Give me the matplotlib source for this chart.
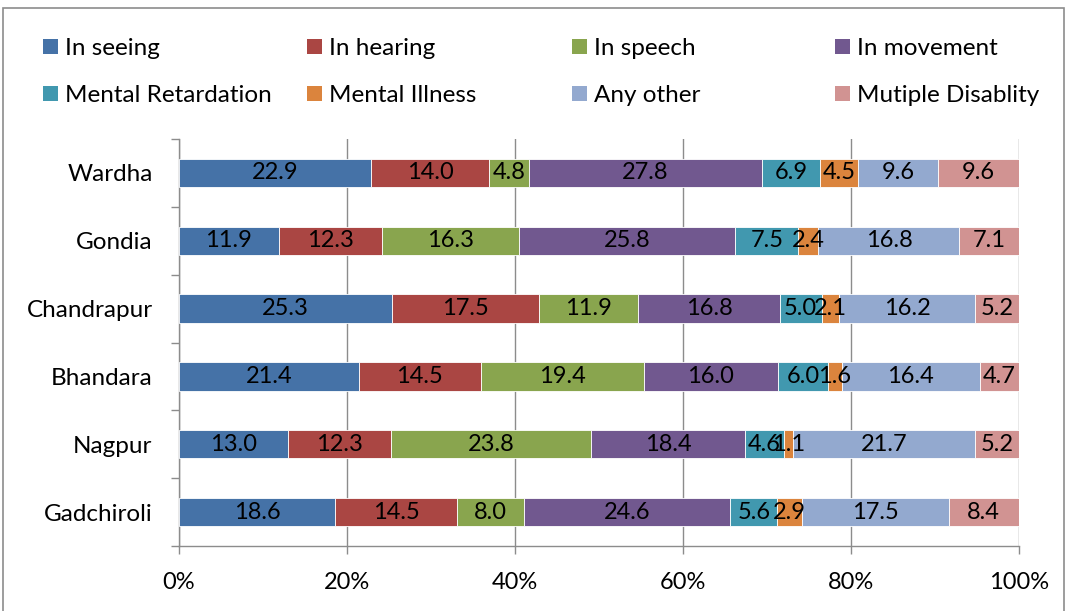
import numpy as np
import matplotlib
matplotlib.use("Agg")
import matplotlib.pyplot as plt
from matplotlib.patches import Patch, Rectangle

plt.rcParams['font.family'] = ['Lato', 'DejaVu Sans']

districts = ["Gadchiroli", "Nagpur", "Bhandara", "Chandrapur", "Gondia", "Wardha"]
categories = ["In seeing", "In hearing", "In speech", "In movement",
              "Mental Retardation", "Mental Illness", "Any other", "Mutiple Disablity"]
colors = ["#4572A7", "#AA4643", "#89A54E", "#71588F",
          "#4198AF", "#DB843D", "#93A9CF", "#D19392"]

in_seeing = [18.6, 13.0, 21.4, 25.3, 11.9, 22.9]
in_hearing = [14.5, 12.3, 14.5, 17.5, 12.3, 14.0]
in_speech = [8.0, 23.8, 19.4, 11.9, 16.3, 4.8]
in_movement = [24.6, 18.4, 16.0, 16.8, 25.8, 27.8]
mental_retardation = [5.6, 4.6, 6.0, 5.0, 7.5, 6.9]
mental_illness = [2.9, 1.1, 1.6, 2.1, 2.4, 4.5]
any_other = [17.5, 21.7, 16.4, 16.2, 16.8, 9.6]
multiple = [8.4, 5.2, 4.7, 5.2, 7.1, 9.6]

series = [in_seeing, in_hearing, in_speech, in_movement,
          mental_retardation, mental_illness, any_other, multiple]
values = np.array(series, dtype=float)
totals = values.sum(axis=0)
shares = values / totals * 100.0

W, H = 1068, 611
fig = plt.figure(figsize=(W / 100, H / 100), dpi=100)

# outer chart frame
fig.patches.append(Rectangle((3 / W, -0.01), (1064 - 3) / W, (H - 8) / H + 0.01,
                             transform=fig.transFigure, fill=False,
                             edgecolor="#8c8c8c", linewidth=1.2))

ax = fig.add_axes([179 / W, (H - 546) / H, (1019 - 179) / W, (546 - 139) / H])

y = np.arange(len(districts))
left = np.zeros(len(districts))
for vals, pct, col in zip(values, shares, colors):
    ax.barh(y, pct, left=left, height=0.42, color=col,
            edgecolor="white", linewidth=0.6, zorder=3)
    for yi, l, p, v in zip(y, left, pct, vals):
        ax.text(l + p / 2, yi, f"{v:.1f}", ha="center", va="center",
                fontsize=17, color="black", zorder=4)
    left += pct

ax.set_xlim(0, 100)
ax.set_ylim(-0.5, len(districts) - 0.5)
ax.set_xticks(np.arange(0, 101, 20))
ax.set_xticklabels([f"{t}%" for t in range(0, 101, 20)], fontsize=17)
ax.set_yticks(np.arange(-0.5, len(districts), 1.0))
ax.set_yticklabels([])
ax.set_yticks(y, minor=True)
ax.set_yticklabels(districts, minor=True, fontsize=17.5)
ax.tick_params(axis="y", which="major", length=6, color="#8c8c8c", width=1)
ax.tick_params(axis="y", which="minor", length=0, pad=19)
ax.tick_params(axis="x", length=6, color="#8c8c8c", width=1, pad=13)
ax.grid(axis="x", color="#8c8c8c", linewidth=1, zorder=0)
for s in ["top", "right"]:
    ax.spines[s].set_visible(False)
for s in ["left", "bottom"]:
    ax.spines[s].set_color("#8c8c8c")
    ax.spines[s].set_linewidth(1)

# legend laid out in four columns of two rows
col_x = [43, 307, 572, 835]
for c in range(4):
    idx = [c, c + 4]
    handles = [Patch(facecolor=colors[i], edgecolor="none") for i in idx]
    fig.legend(handles, [categories[i] for i in idx], loc="upper left",
               bbox_to_anchor=(col_x[c] / W, 1 - 38 / H), frameon=False,
               fontsize=17.5, handlelength=0.6, handleheight=0.6,
               handletextpad=0.3, labelspacing=1.08, borderaxespad=0,
               borderpad=0)

fig.savefig("out.png", dpi=100)
